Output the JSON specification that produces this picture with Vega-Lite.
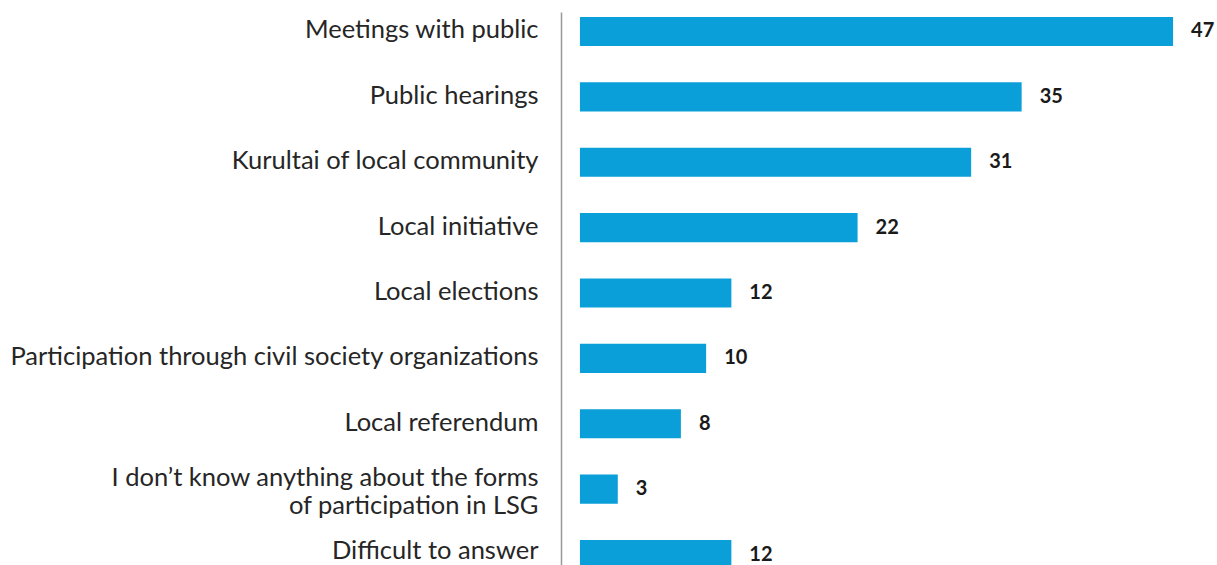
{
  "$schema": "https://vega.github.io/schema/vega-lite/v6.json",
  "width": 656,
  "height": 565,
  "autosize": {"type": "none"},
  "padding": {"left": 561, "top": 0, "right": 0, "bottom": 0},
  "background": "white",
  "config": {"view": {"stroke": null}},
  "data": {
    "values": [
      {"form": "Meetings with public", "pct": 47},
      {"form": "Public hearings", "pct": 35},
      {"form": "Kurultai of local community", "pct": 31},
      {"form": "Local initiative", "pct": 22},
      {"form": "Local elections", "pct": 12},
      {"form": "Participation through civil society organizations", "pct": 10},
      {"form": "Local referendum", "pct": 8},
      {"form": "I don’t know anything about the forms of participation in LSG", "pct": 3},
      {"form": "Difficult to answer", "pct": 12}
    ]
  },
  "encoding": {
    "y": {
      "field": "form",
      "type": "nominal",
      "sort": null,
      "scale": {"range": [12, 574], "paddingInner": 0.556, "paddingOuter": 0.076},
      "axis": {
        "title": null,
        "ticks": false,
        "tickSize": 0,
        "grid": false,
        "labelPadding": 23,
        "labelFont": "Lato",
        "labelFontSize": 25.5,
        "labelColor": "#262626",
        "labelLimit": 700,
        "labelLineHeight": 28,
        "labelOffset": {"condition": [{"test": "datum.value == 'I don’t know anything about the forms of participation in LSG'", "value": -11}, {"test": "datum.value == 'Difficult to answer'", "value": -4}], "value": -1},
        "domainColor": "#999999",
        "domainWidth": 1.5,
        "labelExpr": "datum.value == 'I don’t know anything about the forms of participation in LSG' ? ['I don’t know anything about the forms', 'of participation in LSG'] : datum.label"
      }
    },
    "x": {
      "field": "pct",
      "type": "quantitative",
      "scale": {"domain": [-1.5, 50.48], "nice": false, "zero": false},
      "axis": null
    }
  },
  "layer": [
    {
      "mark": {"type": "bar", "color": "#0A9FD8"},
      "encoding": {"x2": {"datum": 0}}
    },
    {
      "mark": {"type": "text", "align": "left", "baseline": "middle", "dx": 18, "font": "Lato", "fontWeight": "bold", "fontSize": 20, "color": "#1a1a1a"},
      "encoding": {"text": {"field": "pct", "type": "quantitative"}}
    }
  ]
}
